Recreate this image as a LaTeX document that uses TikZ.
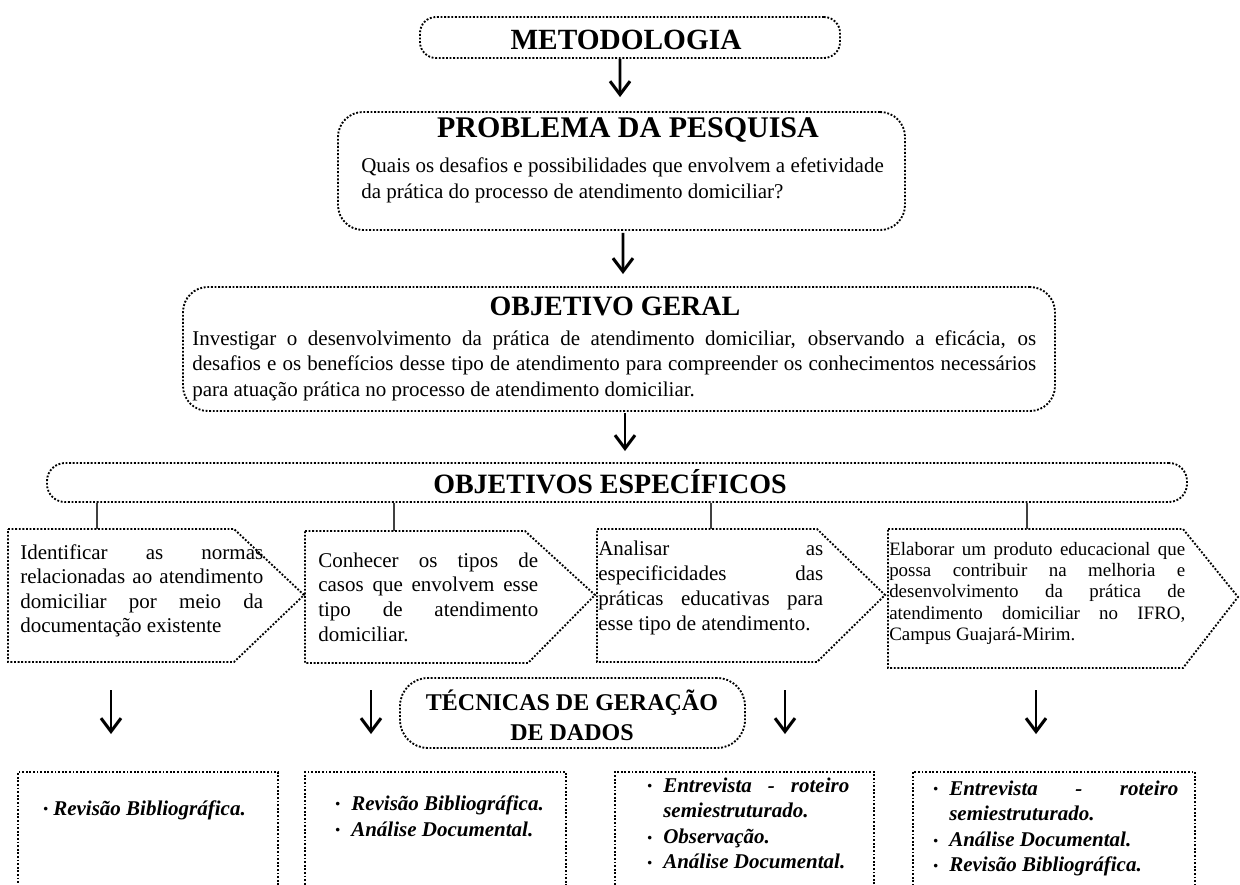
\documentclass[tikz,border=0pt]{standalone}
\usepackage{fontspec}
\setmainfont{Liberation Serif}
\usetikzlibrary{arrows.meta}
\newlength{\pxu}\setlength{\pxu}{0.75pt}
\newcommand{\bodysize}{\fontsize{15.75}{18.75}\selectfont}
\newcommand{\mypar}[3]{\begin{minipage}[t]{#1\pxu}#2\setlength{\parindent}{0pt}\hyphenpenalty=10000 \exhyphenpenalty=10000 \tolerance=9999 \emergencystretch=3em #3\end{minipage}}
\newcommand{\bitem}[2][16]{\par\hangindent=#1\pxu\hangafter=1\noindent\makebox[#1\pxu][l]{\raisebox{0.8pt}{\fontsize{10}{10}\selectfont\textbullet}}#2}
\begin{document}
\begin{tikzpicture}[x=0.75pt,y=-0.75pt,
  dotbox/.style={draw, line width=1.4pt, dash pattern=on 1.4pt off 1.3pt, inner sep=0pt},
  arr/.style={line width=2pt, -{Straight Barb[length=10pt,width=15pt,line width=2.3pt]}},
  conn/.style={line width=0.8pt, black!75},
  ttl/.style={inner sep=0pt, anchor=base, font=\bfseries},
  txt/.style={inner sep=0pt, anchor=base west}]
\useasboundingbox (0,0) rectangle (1240,885);

% boxes
\node[dotbox, rounded corners=16\pxu, minimum width=420\pxu, minimum height=41\pxu] (met) at (630,37.5) {};
\node[dotbox, rounded corners=25\pxu, minimum width=567\pxu, minimum height=118\pxu] (prob) at (621.5,171) {};
\node[dotbox, rounded corners=25\pxu, minimum width=872\pxu, minimum height=124\pxu] (og) at (619,349) {};
\node[dotbox, rounded corners=18\pxu, minimum width=1140\pxu, minimum height=39\pxu] (oe) at (617,482.5) {};
\node[dotbox, rounded corners=28\pxu, minimum width=345\pxu, minimum height=70\pxu] (tec) at (572.5,713) {};
\node[dotbox, minimum width=260\pxu, minimum height=116\pxu] (b1) at (148,830) {};
\node[dotbox, minimum width=261\pxu, minimum height=116\pxu] (b2) at (435.5,830) {};
\node[dotbox, minimum width=259\pxu, minimum height=116\pxu] (b3) at (744.5,830) {};
\node[dotbox, minimum width=282\pxu, minimum height=116\pxu] (b4) at (1054,830) {};

% pentagons
\draw[dotbox] (8,529) -- (234,529) -- (304,595) -- (234,662) -- (8,662) -- cycle;
\draw[dotbox] (305,531) -- (525,531) -- (595,595) -- (528,663) -- (305,663) -- cycle;
\draw[dotbox] (597,529) -- (817,529) -- (885,595) -- (817,662) -- (597,662) -- cycle;
\draw[dotbox] (888,529) -- (1183,529) -- (1238,597) -- (1183,668) -- (888,668) -- cycle;
\coordinate (p1t) at (97,529);
\coordinate (p2t) at (394,531);
\coordinate (p3t) at (711,529);
\coordinate (p4t) at (1027,529);
\coordinate (p1b) at (111,662);
\coordinate (p2b) at (371,663);
\coordinate (p3b) at (785,662);
\coordinate (p4b) at (1036,668);

% connectors
\draw[conn] (oe.south -| p1t) -- (p1t);
\draw[conn] (oe.south -| p2t) -- (p2t);
\draw[conn] (oe.south -| p3t) -- (p3t);
\draw[conn] (oe.south -| p4t) -- (p4t);

% arrows
\draw[arr, shorten >=14\pxu] ([xshift=-7.5pt]met.south) -- ([xshift=-1.1pt]prob.north);
\draw[arr, shorten <=2\pxu, shorten >=12\pxu] ([xshift=1.1pt]prob.south) -- ([xshift=3pt]og.north);
\draw[arr, shorten <=1\pxu, shorten >=11\pxu] ([xshift=4.5pt]og.south) -- ([xshift=6pt]oe.north);
\draw[arr, shorten <=28\pxu, shorten >=37\pxu] (p1b) -- (b1.north -| p1b);
\draw[arr, shorten <=27\pxu, shorten >=37\pxu] (p2b) -- (b2.north -| p2b);
\draw[arr, shorten <=28\pxu, shorten >=37\pxu] (p3b) -- (b3.north -| p3b);
\draw[arr, shorten <=22\pxu, shorten >=37\pxu] (p4b) -- (b4.north -| p4b);

% titles
\node[ttl, font=\fontsize{22}{26}\selectfont\bfseries] (metT) at (626,50) {METODOLOGIA};
\node[ttl, font=\fontsize{22.5}{26}\selectfont\bfseries] (probT) at (628,137) {PROBLEMA DA PESQUISA};
\node[ttl, font=\fontsize{21}{25}\selectfont\bfseries] (ogT) at (615,315) {OBJETIVO GERAL};
\node[ttl, font=\fontsize{21}{25}\selectfont\bfseries] (oeT) at (610,493) {OBJETIVOS ESPEC\'IFICOS};
\node[txt, anchor=base] (tecT) at (572,710) {\begin{minipage}[t]{330\pxu}\centering\fontsize{18}{22.5}\selectfont\bfseries T\'ECNICAS DE GERA\c{C}\~AO\\DE DADOS\end{minipage}};

% texts
\node[txt] (probX) at (361,172) {\mypar{545}{\fontsize{15.75}{19.5}\selectfont\raggedright}{Quais os desafios e possibilidades que envolvem a efetividade\\da prática do processo de atendimento domiciliar?}};
\node[txt] (ogX) at (192,345) {\mypar{844}{\fontsize{15.75}{19.2}\selectfont}{Investigar o desenvolvimento da prática de atendimento domiciliar, observando a eficácia, os\linebreak desafios e os benefícios desse tipo de atendimento para compreender os conhecimentos necessários\linebreak para atuação prática no processo de atendimento domiciliar.}};
\node[txt] (p1X) at (20,559) {\mypar{243}{\fontsize{15.75}{18.4}\selectfont}{Identificar as normas\linebreak relacionadas ao atendimento\linebreak domiciliar por meio da\linebreak documentação existente}};
\node[txt] (p2X) at (318,567) {\mypar{220}{\fontsize{15.75}{18.7}\selectfont}{Conhecer os tipos de\linebreak casos que envolvem esse\linebreak tipo de atendimento\linebreak domiciliar.}};
\node[txt] (p3X) at (598,555) {\mypar{225}{\fontsize{15.75}{18.9}\selectfont}{Analisar as\linebreak especificidades das\linebreak práticas educativas para\linebreak esse tipo de atendimento.}};
\node[txt] (p4X) at (889,555) {\mypar{296}{\fontsize{14.2}{16}\selectfont}{Elaborar um produto educacional que\linebreak possa contribuir na melhoria e\linebreak desenvolvimento da prática de\linebreak atendimento domiciliar no IFRO,\linebreak Campus Guajará-Mirim.}};

\node[txt] (b1X) at (43,815) {\mypar{220}{\fontsize{15.75}{19.2}\selectfont\bfseries\itshape}{\bitem[10]{Revisão Bibliográfica.}}};
\node[txt] (b2X) at (335,810) {\mypar{220}{\fontsize{15.75}{19.5}\selectfont\bfseries\itshape}{\bitem{Revisão Bibliográfica.}\bitem{Análise Documental.}}};
\node[txt] (b3X) at (647,792) {\mypar{202}{\fontsize{15.75}{19.2}\selectfont\bfseries\itshape}{\bitem{Entrevista - roteiro\linebreak semiestruturado.}\bitem{Observação.}\bitem{Análise Documental.}}};
\node[txt] (b4X) at (933,795) {\mypar{245}{\fontsize{15.75}{19.2}\selectfont\bfseries\itshape}{\bitem{Entrevista - roteiro\linebreak semiestruturado.}\bitem{Análise Documental.}\bitem{Revisão Bibliográfica.}}};
\end{tikzpicture}
\end{document}
